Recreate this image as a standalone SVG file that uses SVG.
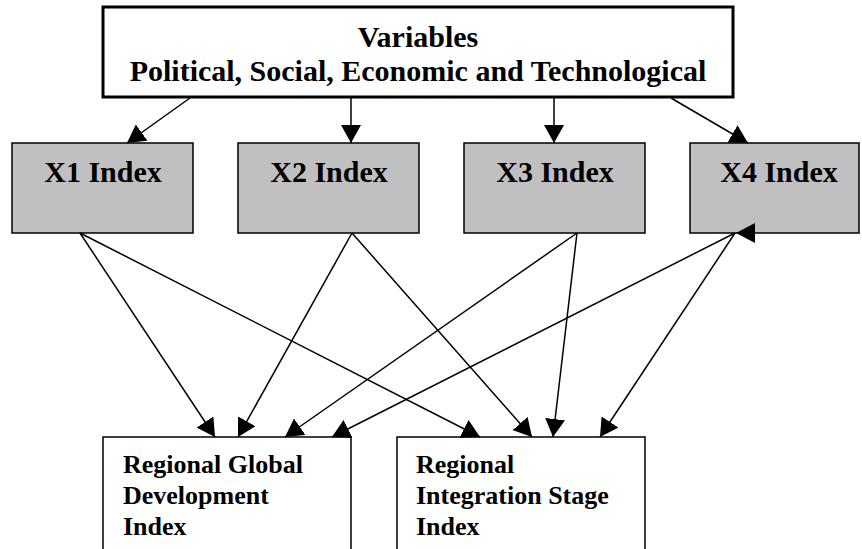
<svg xmlns="http://www.w3.org/2000/svg" width="862" height="549" viewBox="0 0 862 549">
  <style>
    .box { fill: #ffffff; stroke: #000000; stroke-width: 1.5; }
    .top { fill: #ffffff; stroke: #000000; stroke-width: 3; }
    .idx { fill: #c0c0c0; stroke: #000000; stroke-width: 1.5; }
    .t { font-family: "Liberation Serif", "Times New Roman", serif; font-weight: bold; fill: #000000; }
    .t30 { font-size: 30px; text-anchor: middle; }
    .t26 { font-size: 26px; }
    .edge { stroke: #000000; stroke-width: 1.5; fill: none; marker-end: url(#arrow); }
  </style>
  <defs>
    <marker id="arrow" viewBox="0 0 18 20" refX="18" refY="10" markerWidth="18" markerHeight="20" markerUnits="userSpaceOnUse" orient="auto">
      <path d="M0,0 L18,10 L0,20 Z" fill="#000000"/>
    </marker>
  </defs>
  <rect width="862" height="549" fill="#ffffff"/>

  <g id="variables">
    <rect class="top" x="103" y="7" width="630" height="90"/>
    <text class="t t30" x="418" y="47">Variables</text>
    <text class="t t30" x="418" y="81">Political, Social, Economic and Technological</text>
  </g>

  <g id="x1">
    <rect class="idx" x="12" y="143" width="181" height="90"/>
    <text class="t t30" x="103" y="182">X1 Index</text>
  </g>
  <g id="x2">
    <rect class="idx" x="238" y="143" width="181" height="90"/>
    <text class="t t30" x="329" y="182">X2 Index</text>
  </g>
  <g id="x3">
    <rect class="idx" x="464" y="143" width="181" height="90"/>
    <text class="t t30" x="555" y="182">X3 Index</text>
  </g>
  <g id="x4">
    <rect class="idx" x="690" y="143" width="169" height="90"/>
    <text class="t t30" x="779" y="182">X4 Index</text>
  </g>

  <g id="regional-global">
    <rect class="box" x="103" y="437" width="248" height="120"/>
    <text class="t t26" x="123" y="473">Regional Global</text>
    <text class="t t26" x="123" y="504">Development</text>
    <text class="t t26" x="123" y="535">Index</text>
  </g>
  <g id="regional-integration">
    <rect class="box" x="397" y="437" width="248" height="120"/>
    <text class="t t26" x="416" y="473">Regional</text>
    <text class="t t26" x="416" y="504">Integration Stage</text>
    <text class="t t26" x="416" y="535">Index</text>
  </g>

  <g id="connectors">
    <!-- variables to indices -->
    <line class="edge" x1="190" y1="98" x2="127" y2="143"/>
    <line class="edge" x1="351" y1="98" x2="351" y2="143"/>
    <line class="edge" x1="554" y1="98" x2="554" y2="143"/>
    <line class="edge" x1="671" y1="98" x2="748" y2="143"/>
    <!-- indices to composite indices -->
    <line class="edge" x1="80" y1="233" x2="215" y2="437"/>
    <line class="edge" x1="80" y1="233" x2="480" y2="437"/>
    <line class="edge" x1="352" y1="233" x2="238" y2="437"/>
    <line class="edge" x1="352" y1="233" x2="532" y2="437"/>
    <line class="edge" x1="577" y1="233" x2="285" y2="437"/>
    <line class="edge" x1="577" y1="233" x2="553" y2="437"/>
    <line class="edge" x1="735" y1="233" x2="332" y2="437"/>
    <line class="edge" x1="735" y1="233" x2="600" y2="437"/>
    <!-- head sitting on the X4 bottom edge -->
    <path d="M736,233 L755,223 L755,243 Z" fill="#000000"/>
  </g>
</svg>
